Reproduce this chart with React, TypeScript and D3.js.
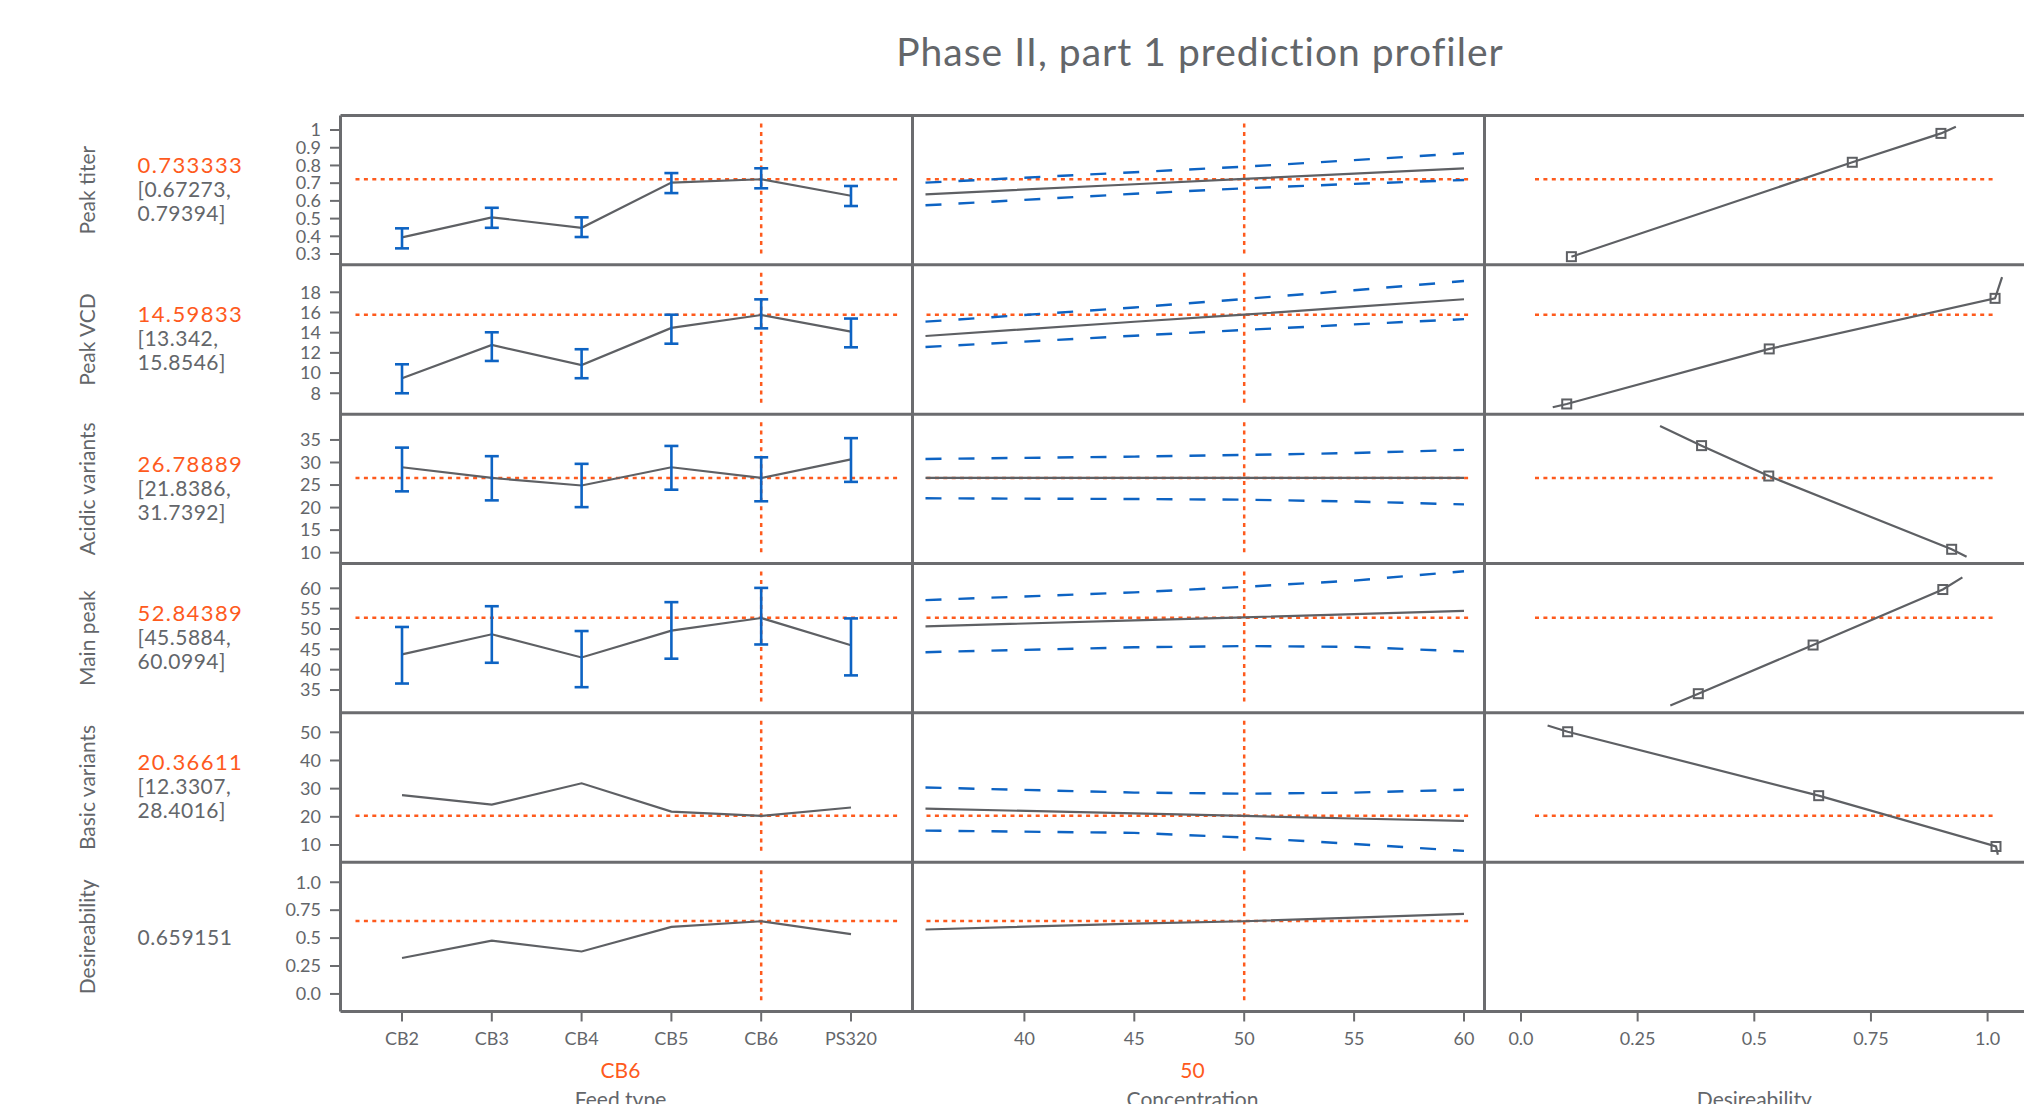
import React from "react";
import * as d3 from "d3";

// responses shown in the profiler rows
const rowNames = ["Peak titer", "Peak VCD", "Acidic variants", "Main peak", "Basic variants", "Desireability"];
const predicted = ["0.733333", "14.59833", "26.78889", "52.84389", "20.36611", "0.659151"];
const intervals = [
  ["[0.67273,", "0.79394]"],
  ["[13.342,", "15.8546]"],
  ["[21.8386,", "31.7392]"],
  ["[45.5884,", "60.0994]"],
  ["[12.3307,", "28.4016]"],
  null,
];
// where the horizontal reference line sits in each row
const currentY = [0.722, 15.78, 26.57, 52.75, 20.4, 0.653];
const yDomains = [
  [0.239, 1.082],
  [5.93, 20.72],
  [7.6, 40.72],
  [29.4, 66.1],
  [3.9, 56.92],
  [-0.157, 1.18],
];
const yTicks = [
  [0.3, 0.4, 0.5, 0.6, 0.7, 0.8, 0.9, 1],
  [8, 10, 12, 14, 16, 18],
  [10, 15, 20, 25, 30, 35],
  [35, 40, 45, 50, 55, 60],
  [10, 20, 30, 40, 50],
  [0, 0.25, 0.5, 0.75, 1],
];

// feed type factor
const feedTypes = ["CB2", "CB3", "CB4", "CB5", "CB6", "PS320"];
const currentFeed = "CB6";
const feedMeans = [
  [0.394, 0.507, 0.448, 0.703, 0.722, 0.629],
  [9.49, 12.78, 10.8, 14.47, 15.75, 14.1],
  [28.94, 26.57, 24.9, 28.94, 26.57, 30.7],
  [43.75, 48.7, 43.0, 49.6, 52.7, 46.0],
  [27.7, 24.3, 31.9, 21.85, 20.3, 23.3],
  [0.322, 0.477, 0.38, 0.6, 0.651, 0.535],
];
const feedLow = [
  [0.332, 0.448, 0.396, 0.644, 0.671, 0.571],
  [8.0, 11.2, 9.49, 12.91, 14.43, 12.55],
  [23.6, 21.6, 20.1, 23.97, 21.4, 25.7],
  [36.6, 41.7, 35.7, 42.7, 46.2, 38.6],
  null,
  null,
];
const feedHigh = [
  [0.445, 0.561, 0.507, 0.757, 0.784, 0.684],
  [10.87, 14.04, 12.36, 15.78, 17.3, 15.4],
  [33.3, 31.4, 29.7, 33.67, 31.15, 35.4],
  [50.5, 55.6, 49.5, 56.6, 60.1, 52.6],
  null,
  null,
];

// concentration factor
const concGrid = [35.5, 45, 50, 55, 60];
const currentConc = 50;
const concTicks = [40, 45, 50, 55, 60];
const concPred = [
  [0.637, 0.694, 0.724, 0.754, 0.784],
  [13.67, 15.08, 15.78, 16.55, 17.31],
  [26.57, 26.57, 26.57, 26.57, 26.57],
  [50.66, 52.1, 52.87, 53.65, 54.45],
  [22.9, 21.2, 20.3, 19.4, 18.55],
  [0.577, 0.63, 0.651, 0.684, 0.716],
];
const concUpper = [
  [0.703, 0.762, 0.793, 0.83, 0.869],
  [15.09, 16.5, 17.34, 18.2, 19.12],
  [30.78, 31.3, 31.67, 32.1, 32.8],
  [57.1, 59.0, 60.37, 61.9, 64.2],
  [30.4, 28.6, 28.2, 28.6, 29.6],
  null,
];
const concLower = [
  [0.575, 0.64, 0.671, 0.696, 0.718],
  [12.58, 13.7, 14.27, 14.82, 15.34],
  [22.06, 21.9, 21.75, 21.35, 20.7],
  [44.3, 45.5, 45.8, 45.6, 44.5],
  [15.1, 14.3, 12.65, 10.35, 7.9],
  null,
];

// desirability functions: [desirability, response]
const desirCurves = [
  [[0.108, 0.285], [0.71, 0.818], [0.9, 0.981], [0.932, 1.019]],
  [[0.068, 6.61], [0.098, 6.94], [0.532, 12.39], [1.016, 17.4], [1.031, 19.5]],
  [[0.298, 38.1], [0.387, 33.74], [0.531, 27.0], [0.923, 10.75], [0.955, 9.1]],
  [[0.32, 31.2], [0.38, 34.1], [0.626, 46.06], [0.904, 59.7], [0.946, 62.7]],
  [[0.057, 52.4], [0.1, 50.2], [0.638, 27.5], [1.018, 9.46], [1.022, 6.55]],
  [],
];
const desirMarks = [
  [[0.108, 0.285], [0.71, 0.818], [0.9, 0.981]],
  [[0.098, 6.94], [0.532, 12.39], [1.016, 17.4]],
  [[0.387, 33.74], [0.531, 27.0], [0.923, 10.75]],
  [[0.38, 34.1], [0.626, 46.06], [0.904, 59.7]],
  [[0.1, 50.2], [0.638, 27.5], [1.018, 9.46]],
  [],
];
const desirTicks = [0, 0.25, 0.5, 0.75, 1];
const xTitles = ["Feed type", "Concentration", "Desireability"];
const xCurrent = [currentFeed, String(currentConc), ""];

const W = 2024;
const H = 1104;
const FONT = "Lato, 'Open Sans', sans-serif";
const GREY = "#63666a";
const FRAME = "#6b6c6f";
const LINE = "#5e6064";
const ORANGE = "#fe5a1d";
const BLUE = "#0d63c3";

const left = 340.5;
const top = 115.5;
const rowH = 149.33;
const colW = 572;
const colX = [left, left + colW, left + 2 * colW];
const bottom = top + rowH * 6;

const fmtTick = (row, v) => {
  if (row === 5) return v === 0 ? "0.0" : v === 1 ? "1.0" : String(v);
  return String(v);
};
const fmtDesir = (v) => (v === 0 ? "0.0" : v === 1 ? "1.0" : String(v));

export default function App() {
  const xFeed = d3.scalePoint().domain(feedTypes).range([colX[0], colX[1]]).padding(0.685);
  const xConc = d3.scaleLinear().domain([40, 60]).range([1024.4, 1464]);
  const xDes = d3.scaleLinear().domain([0, 1]).range([1521, 1987.6]);

  const rows = rowNames.map((name, i) => {
    const y0 = top + i * rowH;
    const y = d3.scaleLinear().domain(yDomains[i]).range([y0 + rowH, y0]);
    const cy = y(currentY[i]);
    const feedLine = d3.line().x((d) => xFeed(d[0])).y((d) => y(d[1]));
    const concLine = d3.line().x((d) => xConc(d[0])).y((d) => y(d[1]));
    const desLine = d3.line().x((d) => xDes(d[0])).y((d) => y(d[1]));
    const mid = y0 + rowH / 2;

    return (
      <g key={name}>
        {/* row label + prediction */}
        <text
          transform={`translate(95,${mid}) rotate(-90)`}
          textAnchor="middle"
          fontSize={21}
          fill={GREY}
        >
          {name}
        </text>
        {intervals[i] ? (
          <g>
            <text x={137.5} y={mid - 17} fill={ORANGE} fontSize={22} letterSpacing={1.4}>
              {predicted[i]}
            </text>
            <text x={137.5} y={mid + 7} fill={GREY} fontSize={21} letterSpacing={0.5}>
              {intervals[i][0]}
            </text>
            <text x={137.5} y={mid + 31} fill={GREY} fontSize={21} letterSpacing={0.5}>
              {intervals[i][1]}
            </text>
          </g>
        ) : (
          <text x={137.5} y={mid + 8} fontSize={21} letterSpacing={0.6} fill={GREY}>
            {predicted[i]}
          </text>
        )}

        {/* y axis */}
        {yTicks[i].map((t) => (
          <g key={t}>
            <line x1={330} x2={left} y1={y(t)} y2={y(t)} stroke={FRAME} strokeWidth={2} />
            <text x={321} y={y(t)} dy="0.35em" textAnchor="end" fontSize={18} fill={GREY}>
              {fmtTick(i, t)}
            </text>
          </g>
        ))}

        {/* reference lines */}
        <g stroke={ORANGE} strokeWidth={2.5} strokeDasharray="4,4.4" fill="none">
          <line x1={colX[0] + 15} x2={colX[1] - 14} y1={cy} y2={cy} />
          <line x1={colX[1] + 14} x2={colX[2] - 16} y1={cy} y2={cy} />
          {desirCurves[i].length > 0 && <line x1={xDes(0.03)} x2={xDes(1.02)} y1={cy} y2={cy} />}
          <line x1={xFeed(currentFeed)} x2={xFeed(currentFeed)} y1={y0 + 8} y2={y0 + rowH - 8} />
          <line x1={xConc(currentConc)} x2={xConc(currentConc)} y1={y0 + 8} y2={y0 + rowH - 8} />
        </g>

        {/* feed type profile */}
        <path
          d={feedLine(feedTypes.map((f, j) => [f, feedMeans[i][j]]))}
          fill="none"
          stroke={LINE}
          strokeWidth={2.2}
        />
        {feedLow[i] &&
          feedTypes.map((f, j) => {
            const x = xFeed(f);
            const lo = y(feedLow[i][j]);
            const hi = y(feedHigh[i][j]);
            return (
              <g key={f} stroke={BLUE} strokeWidth={2.6}>
                <line x1={x} x2={x} y1={lo} y2={hi} />
                <line x1={x - 7} x2={x + 7} y1={lo} y2={lo} />
                <line x1={x - 7} x2={x + 7} y1={hi} y2={hi} />
              </g>
            );
          })}

        {/* concentration profile */}
        {concUpper[i] && (
          <g fill="none" stroke={BLUE} strokeWidth={2.4} strokeDasharray="16,17">
            <path d={concLine(concGrid.map((c, j) => [c, concUpper[i][j]]))} />
            <path d={concLine(concGrid.map((c, j) => [c, concLower[i][j]]))} />
          </g>
        )}
        <path
          d={concLine(concGrid.map((c, j) => [c, concPred[i][j]]))}
          fill="none"
          stroke={LINE}
          strokeWidth={2.2}
        />

        {/* desirability function */}
        {desirCurves[i].length > 0 && (
          <path d={desLine(desirCurves[i])} fill="none" stroke={LINE} strokeWidth={2.2} />
        )}
        {desirMarks[i].map((m, j) => (
          <rect
            key={j}
            x={xDes(m[0]) - 4.5}
            y={y(m[1]) - 4.5}
            width={9}
            height={9}
            fill="none"
            stroke={LINE}
            strokeWidth={2}
          />
        ))}
      </g>
    );
  });

  const bottomAxis = (ticks, xs, fmt) =>
    ticks.map((t) => (
      <g key={t}>
        <line x1={xs(t)} x2={xs(t)} y1={bottom} y2={bottom + 10} stroke={FRAME} strokeWidth={2} />
        <text x={xs(t)} y={bottom + 34} textAnchor="middle" fontSize={18} fill={GREY}>
          {fmt(t)}
        </text>
      </g>
    ));

  return (
    <svg
      width={W}
      height={H}
      style={{ position: "absolute", left: 0, top: 0, display: "block" }}
      fontFamily={FONT}
    >
      <rect width={W} height={H} fill="#fff" />
      <text x={1200} y={66} textAnchor="middle" fontSize={39} letterSpacing={1} fill={GREY}>
        Phase II, part 1 prediction profiler
      </text>

      {rows}

      {/* panel frame */}
      <g stroke={FRAME} strokeWidth={3}>
        {d3.range(7).map((k) => (
          <line key={k} x1={left} x2={W} y1={top + k * rowH} y2={top + k * rowH} />
        ))}
        {colX.map((x) => (
          <line key={x} x1={x} x2={x} y1={top} y2={bottom} />
        ))}
      </g>

      {bottomAxis(feedTypes, xFeed, (t) => t)}
      {bottomAxis(concTicks, xConc, (t) => String(t))}
      {bottomAxis(desirTicks, xDes, fmtDesir)}

      {xTitles.map((t, k) => {
        const cx = colX[k] + colW / 2 - 6;
        const x = k === 2 ? xDes(0.5) : cx;
        return (
          <g key={t} textAnchor="middle" fontSize={21}>
            <text x={x} y={bottom + 67} fill={ORANGE}>{xCurrent[k]}</text>
            <text x={x} y={bottom + 96} fill={GREY}>{t}</text>
          </g>
        );
      })}
    </svg>
  );
}
